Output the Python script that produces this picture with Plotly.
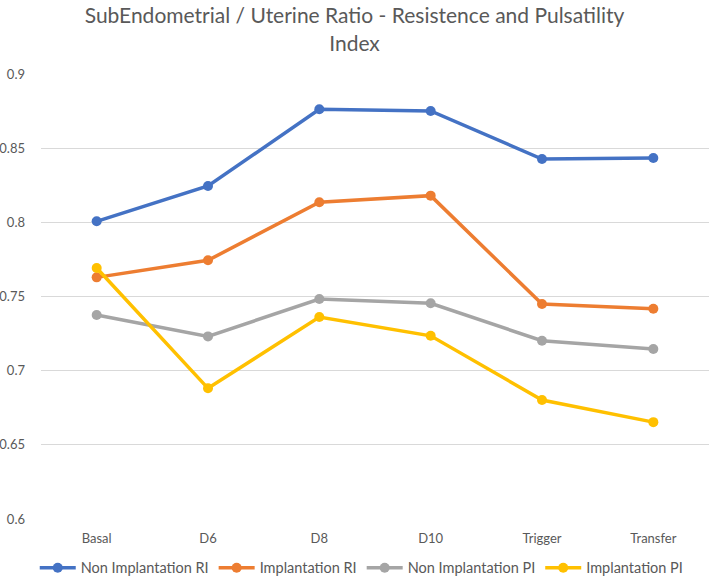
import plotly.graph_objects as go

categories = ["Basal", "D6", "D8", "D10", "Trigger", "Transfer"]
non_impl_ri = [0.8007, 0.8245, 0.8762, 0.8751, 0.8427, 0.8434]
impl_ri = [0.7629, 0.7744, 0.8135, 0.8180, 0.7449, 0.7417]
non_impl_pi = [0.7375, 0.7231, 0.7483, 0.7454, 0.7202, 0.7146]
impl_pi = [0.7692, 0.6881, 0.7362, 0.7235, 0.6802, 0.6653]

series = [
    ("Non Implantation RI", non_impl_ri, "#4472C4"),
    ("Implantation RI", impl_ri, "#ED7D31"),
    ("Non Implantation PI", non_impl_pi, "#A5A5A5"),
    ("Implantation PI", impl_pi, "#FFC000"),
]

fig = go.Figure()
for name, vals, col in series:
    fig.add_trace(go.Scatter(
        x=categories, y=vals, name=name, mode="lines+markers",
        line=dict(color=col, width=3.5),
        marker=dict(color=col, size=10),
    ))

font_family = "Lato, Carlito, Calibri, sans-serif"
fig.update_layout(
    width=709, height=580,
    margin=dict(l=41, r=0, t=74, b=61),
    paper_bgcolor="white", plot_bgcolor="white",
    font=dict(family=font_family, color="#595959", size=12),
    title=dict(
        text="SubEndometrial / Uterine Ratio - Resistence and Pulsatility<br>Index",
        x=0.5, xanchor="center", xref="container",
        y=0.96, yanchor="top", yref="container",
        font=dict(family=font_family, size=21, color="#595959"),
    ),
    showlegend=True,
    legend=dict(
        orientation="h", xref="container", x=0.049, xanchor="left",
        yref="container", y=0.021, yanchor="middle",
        font=dict(family=font_family, size=14.5, color="#595959"),
        itemwidth=36, tracegroupgap=0,
    ),
    xaxis=dict(
        type="category", range=[-0.5, 5.5], showgrid=False, showline=False,
        zeroline=False, ticks="", tickfont=dict(size=13, color="#595959"),
        ticklabelstandoff=10,
    ),
    yaxis=dict(
        range=[0.6, 0.9], dtick=0.05, tick0=0.6, showgrid=True,
        gridcolor="#D9D9D9", gridwidth=1, zeroline=False, showline=False,
        ticks="", tickfont=dict(size=13, color="#595959"), ticklabelstandoff=15,
    ),
)

fig.write_html("out.html", config={"displayModeBar": False},
               post_script="document.body.style.margin='0';")
